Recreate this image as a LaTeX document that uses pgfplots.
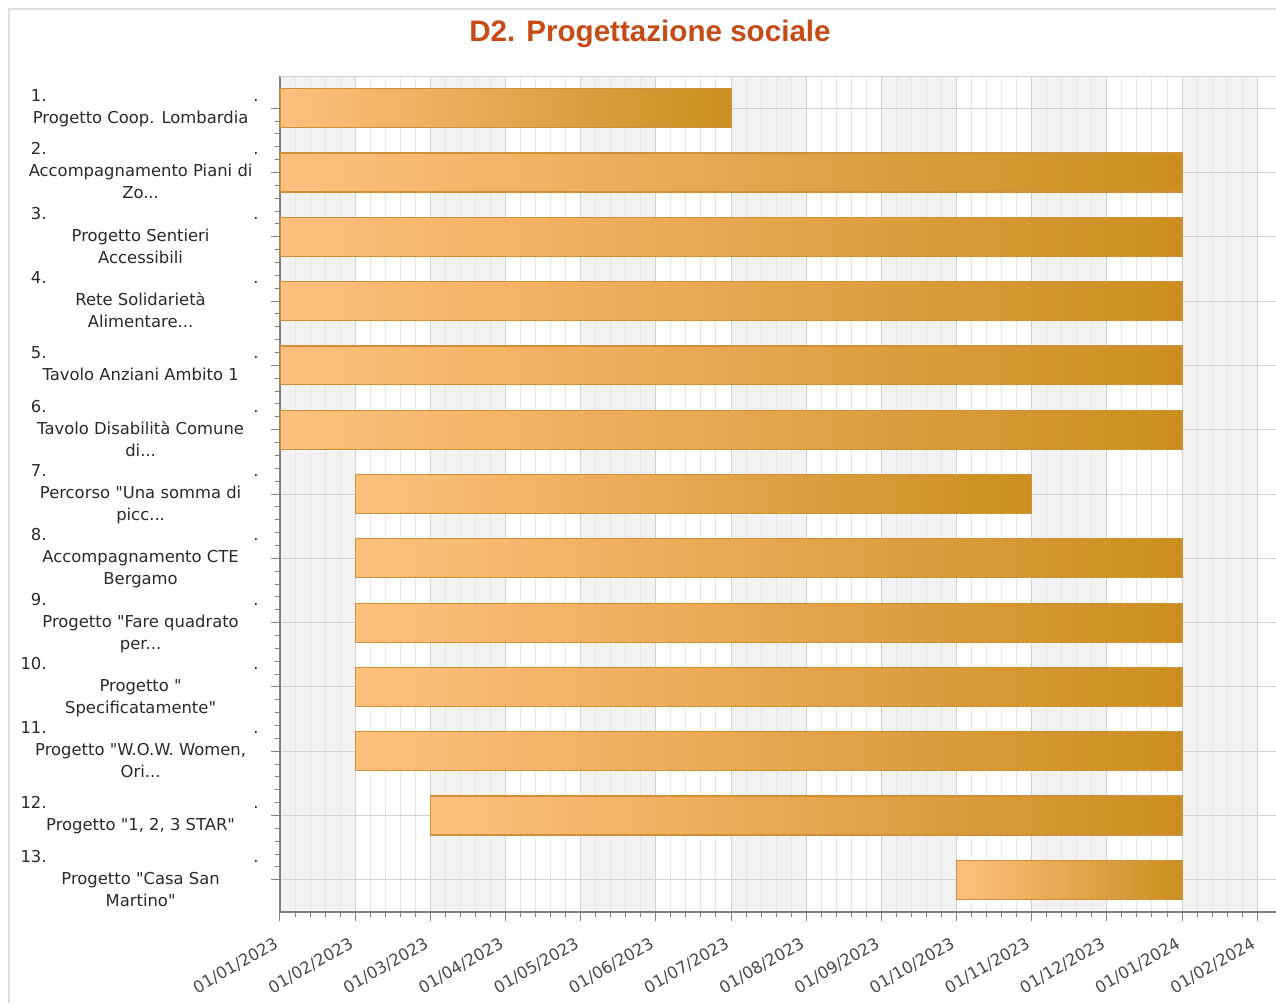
\documentclass[border=0pt]{standalone}
\usepackage{pgfplots}
\pgfplotsset{compat=1.18}
\usepackage{fontspec}
\setmainfont{DejaVu Sans}[Ligatures=TeXOff]
\newfontfamily\titlefont{Liberation Sans}
\definecolor{barL}{HTML}{FFC07E}
\definecolor{barR}{HTML}{CB8E1E}
\definecolor{barB}{HTML}{D0903A}
\definecolor{band}{HTML}{F2F2F2}
\definecolor{gridmaj}{HTML}{D2D2D2}
\definecolor{gridmin}{HTML}{E6E6E6}
\definecolor{axisgray}{HTML}{808080}
\definecolor{titlecol}{HTML}{C64B14}
\definecolor{labcol}{HTML}{2A2A2A}
\definecolor{xlabcol}{HTML}{4A4A4A}
\definecolor{framegray}{HTML}{E0E0E0}
\newcommand\lab{\fontsize{8.2}{11}\selectfont}
\newcommand\ylab[2]{\begin{tabular}{@{}c@{}}\makebox[118pt]{\makebox[12pt][r]{#1}\hfill.}\\ #2\end{tabular}}
\pgfplotsset{ganttbar/.style={draw=barB, line width=0.6pt, left color=barL, right color=barR}}
\begin{document}
\begin{tikzpicture}
\useasboundingbox (0,0) rectangle (638pt,-501.5pt);
\draw[framegray, line width=1.2pt] (4.5pt,-501.5pt) -- (4.5pt,-4.5pt) -- (638pt,-4.5pt);
\node[anchor=base, text=titlecol, font=\titlefont\bfseries\fontsize{14.8}{16}\selectfont] at (325pt,-20.5pt) {D2. Progettazione sociale};
% background month bands
\begin{axis}[
  at={(140pt,-38pt)}, anchor=north west,
  scale only axis, width=498pt, height=418pt,
  xmin=0, xmax=13.25, ymin=0.5, ymax=13.5,
  axis lines=none, ticks=none,
]
\addplot[ybar interval, fill=band, draw=none] coordinates {
  (0,13.5) (1,0) (2,13.5) (3,0) (4,13.5) (5,0) (6,13.5) (7,0) (8,13.5) (9,0) (10,13.5) (11,0) (12,13.5) (13,0)};
\end{axis}
\begin{axis}[
  at={(140pt,-38pt)}, anchor=north west,
  scale only axis, width=498pt, height=418pt,
  xmin=0, xmax=13.25, ymin=0.5, ymax=13.5,
  axis x line*=bottom, axis y line*=left,
  axis line style={-, draw=axisgray, line width=0.6pt},
  xtick={0,...,13},
  xticklabels={01/01/2023,01/02/2023,01/03/2023,01/04/2023,01/05/2023,01/06/2023,01/07/2023,01/08/2023,01/09/2023,01/10/2023,01/11/2023,01/12/2023,01/01/2024,01/02/2024},
  minor x tick num=4,
  ytick={1,...,13},
  yticklabels={
    {\ylab{13.}{Progetto "Casa San\\ Martino"}},
    {\ylab{12.}{Progetto "1, 2, 3 STAR"}},
    {\ylab{11.}{Progetto "W.O.W. Women,\\ Ori...}},
    {\ylab{10.}{Progetto "\\ Specificatamente"}},
    {\ylab{9.}{Progetto "Fare quadrato\\ per...}},
    {\ylab{8.}{Accompagnamento CTE\\ Bergamo}},
    {\ylab{7.}{Percorso "Una somma di\\ picc...}},
    {\ylab{6.}{Tavolo Disabilità Comune\\ di...}},
    {\ylab{5.}{Tavolo Anziani Ambito 1}},
    {\ylab{4.}{Rete Solidarietà\\ Alimentare...}},
    {\ylab{3.}{Progetto Sentieri\\ Accessibili}},
    {\ylab{2.}{Accompagnamento Piani di\\ Zo...}},
    {\ylab{1.}{Progetto Coop. Lombardia}}},
  minor y tick num=4,
  tick align=outside, major tick length=4.5pt, minor tick length=2.5pt,
  tick style={draw=axisgray, line width=0.5pt},
  xmajorgrids, xminorgrids, ymajorgrids,
  major grid style={draw=gridmaj, line width=0.5pt},
  minor grid style={draw=gridmin, line width=0.5pt},
  x tick label style={xshift=-3pt, yshift=-6pt, rotate=30, anchor=north east, inner sep=1pt, font=\lab, text=xlabcol},
  y tick label style={anchor=east, inner sep=0pt, xshift=-6pt, font=\lab, text=labcol},
]
% one bar per project: from start month to end month (months after 01/01/2023)
\addplot[ganttbar] coordinates {(0,12.697) (6,12.697) (6,13.303) (0,13.303)} -- cycle;   % 1
\addplot[ganttbar] coordinates {(0,11.697) (12,11.697) (12,12.303) (0,12.303)} -- cycle; % 2
\addplot[ganttbar] coordinates {(0,10.697) (12,10.697) (12,11.303) (0,11.303)} -- cycle; % 3
\addplot[ganttbar] coordinates {(0,9.697) (12,9.697) (12,10.303) (0,10.303)} -- cycle;   % 4
\addplot[ganttbar] coordinates {(0,8.697) (12,8.697) (12,9.303) (0,9.303)} -- cycle;     % 5
\addplot[ganttbar] coordinates {(0,7.697) (12,7.697) (12,8.303) (0,8.303)} -- cycle;     % 6
\addplot[ganttbar] coordinates {(1,6.697) (10,6.697) (10,7.303) (1,7.303)} -- cycle;     % 7
\addplot[ganttbar] coordinates {(1,5.697) (12,5.697) (12,6.303) (1,6.303)} -- cycle;     % 8
\addplot[ganttbar] coordinates {(1,4.697) (12,4.697) (12,5.303) (1,5.303)} -- cycle;     % 9
\addplot[ganttbar] coordinates {(1,3.697) (12,3.697) (12,4.303) (1,4.303)} -- cycle;     % 10
\addplot[ganttbar] coordinates {(1,2.697) (12,2.697) (12,3.303) (1,3.303)} -- cycle;     % 11
\addplot[ganttbar] coordinates {(2,1.697) (12,1.697) (12,2.303) (2,2.303)} -- cycle;     % 12
\addplot[ganttbar] coordinates {(9,0.697) (12,0.697) (12,1.303) (9,1.303)} -- cycle;     % 13
\draw[gridmaj, line width=0.6pt] (axis description cs:0,1) -- (axis description cs:1,1);
\end{axis}
\end{tikzpicture}
\end{document}
